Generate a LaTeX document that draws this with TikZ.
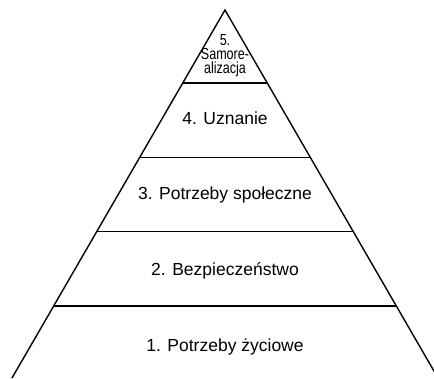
\documentclass[tikz,border=0pt]{standalone}
\usepackage{fontspec}
\usepackage{graphicx}
\setmainfont{Liberation Sans}
\usetikzlibrary{calc}
\begin{document}
\begin{tikzpicture}[x=1pt,y=-1pt,
  edge/.style={line width=1.4pt,black},
  lbl/.style={font=\fontsize{17.5}{20}\selectfont,inner sep=0pt,anchor=base},
  slbl/.style={font=\fontsize{16}{14}\selectfont,inner sep=0pt,anchor=north,align=center}]
\useasboundingbox (0,0) rectangle (434,378);
\clip (0,0) rectangle (434,378);
\coordinate (apex) at (225,10);
\coordinate (bl) at (12,378);
\coordinate (br) at (438,378);
\draw[edge] (bl) -- (apex) -- (br);
\foreach \y/\n in {83/a,157.5/b,231.5/c,306/d}{
  \draw[edge] ($(apex)!{(\y-10)/368}!(bl)$) coordinate (l\n) -- ($(apex)!{(\y-10)/368}!(br)$) coordinate (r\n);
}
\node[slbl] (t5) at (225,34.6) {\scalebox{0.785}[1]{5.}\\\scalebox{0.785}[1]{Samore-}\\\scalebox{0.785}[1]{alizacja}};
\node[lbl] (t4) at (225,124) {4. Uznanie};
\node[lbl] (t3) at (225,199) {3. Potrzeby społeczne};
\node[lbl] (t2) at (225,275.5) {2. Bezpieczeństwo};
\node[lbl] (t1) at (225,351) {1. Potrzeby życiowe};
\end{tikzpicture}
\end{document}
